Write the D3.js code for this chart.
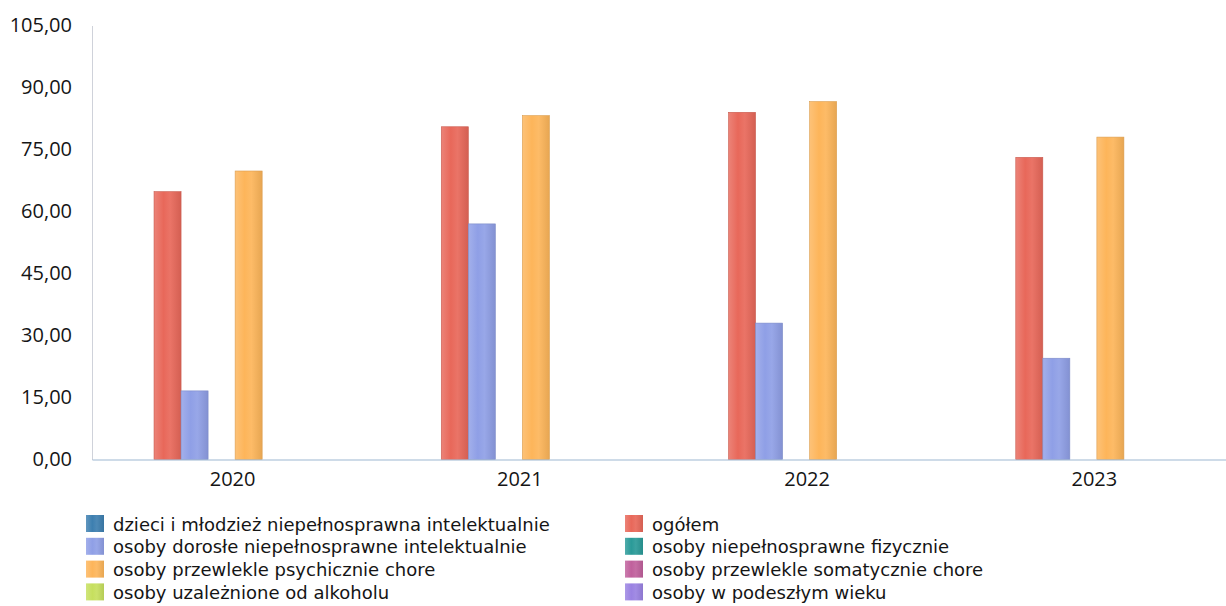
<!DOCTYPE html>
<html><head><meta charset="utf-8">
<script src="https://cdn.jsdelivr.net/npm/d3@7"></script>
<style>
html,body{margin:0;padding:0;background:#fff;}
svg{display:block;font-family:"Open Sans",sans-serif;}
</style></head>
<body>
<svg id="chart" width="1226" height="606"></svg>
<script>
const categories = ["2020","2021","2022","2023"];
const seriesNames = [
  "dzieci i młodzież niepełnosprawna intelektualnie",
  "ogółem",
  "osoby dorosłe niepełnosprawne intelektualnie",
  "osoby niepełnosprawne fizycznie",
  "osoby przewlekle psychicznie chore",
  "osoby przewlekle somatycznie chore",
  "osoby uzależnione od alkoholu",
  "osoby w podeszłym wieku"
];
const dzieci = [0,0,0,0];
const ogolem = [64.8,80.5,84.0,73.1];
const dorosle = [16.6,57.0,33.0,24.5];
const fizycznie = [0,0,0,0];
const psychicznie = [69.8,83.2,86.6,78.0];
const somatycznie = [0,0,0,0];
const alkohol = [0,0,0,0];
const podeszly = [0,0,0,0];
const seriesValues = [dzieci, ogolem, dorosle, fizycznie, psychicznie, somatycznie, alkohol, podeszly];
const seriesColors = ["#3d7fb0","#e8685a","#8f9fe6","#2a9a98","#fdb55a","#c0609c","#c6df5e","#9a82e2"];
const yTicks = [0,15,30,45,60,75,90,105];

const svg = d3.select("#chart");
const mLeft = 92, mRight = 1241, mTop = 25.5, mBottom = 459.5;

const x0 = d3.scaleBand().domain(categories).range([mLeft, mRight]).paddingInner(0).paddingOuter(0);
const x1 = d3.scaleBand().domain(seriesNames).range([35, x0.bandwidth()-36]).padding(0);
const y = d3.scaleLinear().domain([0,105]).range([mBottom, mTop]);

const loc = d3.formatLocale({decimal:",", thousands:" ", grouping:[3], currency:["","zł"]});
const fmt = loc.format(".2f");

// gradients
const defs = svg.append("defs");
seriesColors.forEach((c,i)=>{
  const g = defs.append("linearGradient").attr("id","g"+i).attr("x1","0").attr("x2","1").attr("y1","0").attr("y2","0");
  const base = d3.color(c);
  g.append("stop").attr("offset","0").attr("stop-color", d3.interpolateRgb(c,"#fff")(0.18));
  g.append("stop").attr("offset","0.35").attr("stop-color", c);
  g.append("stop").attr("offset","0.6").attr("stop-color", d3.interpolateRgb(c,"#fff")(0.08));
  g.append("stop").attr("offset","1").attr("stop-color", base.darker(0.25));
});

// y axis
const yAxis = d3.axisLeft(y).tickValues(yTicks).tickFormat(fmt).tickSize(0).tickPadding(20);
const ya = svg.append("g").attr("transform",`translate(${mLeft},0)`).call(yAxis);
ya.select(".domain").attr("stroke","#cfd2da").attr("stroke-width",1);
ya.selectAll("text").attr("font-size","20px").attr("fill","#151515").attr("font-family","'Open Sans',sans-serif");

// bars
const groups = svg.append("g").selectAll("g").data(categories).join("g")
  .attr("transform", d=>`translate(${x0(d)},0)`);
groups.selectAll("rect").data((d,ci)=>seriesNames.map((s,si)=>({s,si,v:seriesValues[si][ci]})))
  .join("rect")
  .attr("x", d=>x1(d.s))
  .attr("width", x1.bandwidth())
  .attr("y", d=>y(d.v))
  .attr("height", d=>y(0)-y(d.v))
  .attr("fill", d=>`url(#g${d.si})`)
  .attr("stroke", d=>d3.color(seriesColors[d.si]).darker(0.4))
  .attr("stroke-width", d=>d.v>0?0.6:0);

// x axis
const xAxis = d3.axisBottom(x0).tickSize(0).tickPadding(12);
const xa = svg.append("g").attr("transform",`translate(0,${mBottom})`).call(xAxis);
xa.select(".domain").attr("stroke","#9db8d2").attr("stroke-width",1.2);
xa.selectAll("text").attr("font-size","20px").attr("fill","#151515").attr("font-family","'Open Sans',sans-serif")
  .attr("dx","-3");

// legend
const legend = svg.append("g");
const legX = [86, 625], legY0 = 515, legDy = 22.8;
seriesNames.forEach((s,i)=>{
  const col = i%2, row = Math.floor(i/2);
  const g = legend.append("g").attr("transform",`translate(${legX[col]},${legY0+row*legDy})`);
  g.append("rect").attr("width",18).attr("height",17).attr("fill",`url(#g${i})`);
  g.append("text").attr("x",27).attr("y",15.5).attr("font-size","18px")
    .attr("font-family","'DejaVu Sans',sans-serif").attr("fill","#151515").text(s);
});
</script>
</body></html>
